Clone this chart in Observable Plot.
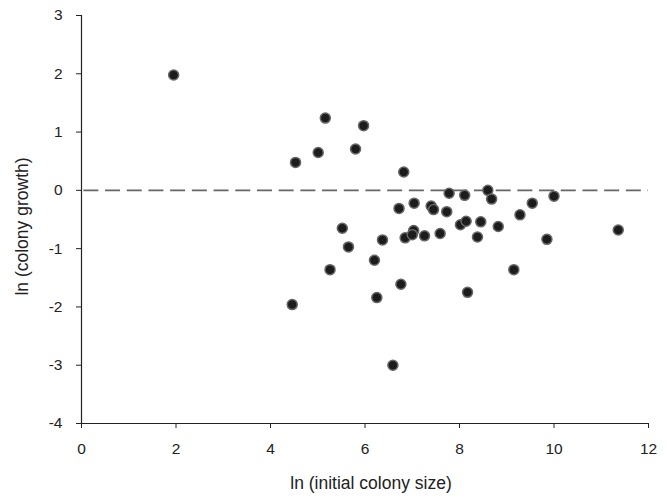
<!DOCTYPE html>
<html>
<head>
<meta charset="utf-8">
<script src="https://cdn.jsdelivr.net/npm/d3@7"></script>
<script src="https://cdn.jsdelivr.net/npm/@observablehq/plot@0.6"></script>
<style>
  html, body { margin: 0; padding: 0; background: #fff; }
  #chart { width: 667px; height: 500px; }
</style>
</head>
<body>
<div id="chart"></div>
<script>
const initialSize = [1.95, 4.46, 4.53, 5.01, 5.16, 5.26, 5.52, 5.65, 5.80, 5.97,
  6.82, 6.37, 6.20, 6.25, 6.76, 6.59, 6.72, 7.04, 6.85, 7.03, 7.00, 7.26,
  7.40, 7.45, 7.59, 7.78, 7.73, 8.02, 8.14, 8.11, 8.17, 8.38, 8.45, 8.60,
  8.68, 8.82, 9.15, 9.28, 9.54, 9.85, 10.00, 11.36];
const growth = [1.98, -1.96, 0.48, 0.65, 1.24, -1.36, -0.65, -0.97, 0.71, 1.11,
  0.315, -0.85, -1.20, -1.84, -1.61, -3.00, -0.31, -0.22, -0.815, -0.69, -0.76, -0.78,
  -0.27, -0.33, -0.74, -0.05, -0.365, -0.59, -0.53, -0.085, -1.75, -0.80, -0.54, 0.0,
  -0.15, -0.62, -1.36, -0.42, -0.22, -0.84, -0.10, -0.68];
const xTicks = [0, 2, 4, 6, 8, 10, 12];
const yTicks = [-4, -3, -2, -1, 0, 1, 2, 3];
const xTitle = ["ln (initial colony size)"];
const yTitle = ["ln (colony growth)"];
const refLine = [0];

const data = initialSize.map((x, i) => ({x, y: growth[i]}));
const font = "'Liberation Sans', Arial, sans-serif";

const chart = Plot.plot({
  width: 667,
  height: 500,
  marginLeft: 81,
  marginRight: 19,
  marginTop: 15,
  marginBottom: 77,
  style: {fontFamily: font, background: "#fff", color: "#222"},
  x: {domain: [0, 12]},
  y: {domain: [-4, 3]},
  marks: [
    Plot.ruleY(refLine, {stroke: "#666", strokeWidth: 1.6, strokeDasharray: "15,6.7", x1: 0.05, x2: 12}),
    Plot.axisX({ticks: xTicks, tickSize: 5, tickPadding: 14, fontSize: 15.5, tickFormat: d => String(d), label: null, stroke: "#222"}),
    Plot.axisY({ticks: yTicks, tickSize: 5, tickPadding: 14, fontSize: 15.5, tickFormat: d => String(d), label: null, stroke: "#222"}),
    Plot.ruleX([0], {stroke: "#222", strokeWidth: 1.2}),
    Plot.ruleY([-4], {stroke: "#222", strokeWidth: 1.2}),
    Plot.dot(data, {x: "x", y: "y", r: 5, fill: "#1c1c1c", stroke: "#666", strokeWidth: 1.5}),
    Plot.text(xTitle, {text: d => d, frameAnchor: "bottom", textAnchor: "middle", lineAnchor: "middle", dx: 6, dy: 60, fontSize: 17.5, fill: "#222"}),
    Plot.text(yTitle, {text: d => d, frameAnchor: "left", textAnchor: "middle", lineAnchor: "middle", rotate: -90, dx: -59, dy: 7, fontSize: 17.5, fill: "#222"})
  ]
});
document.getElementById("chart").appendChild(chart);
</script>
</body>
</html>
